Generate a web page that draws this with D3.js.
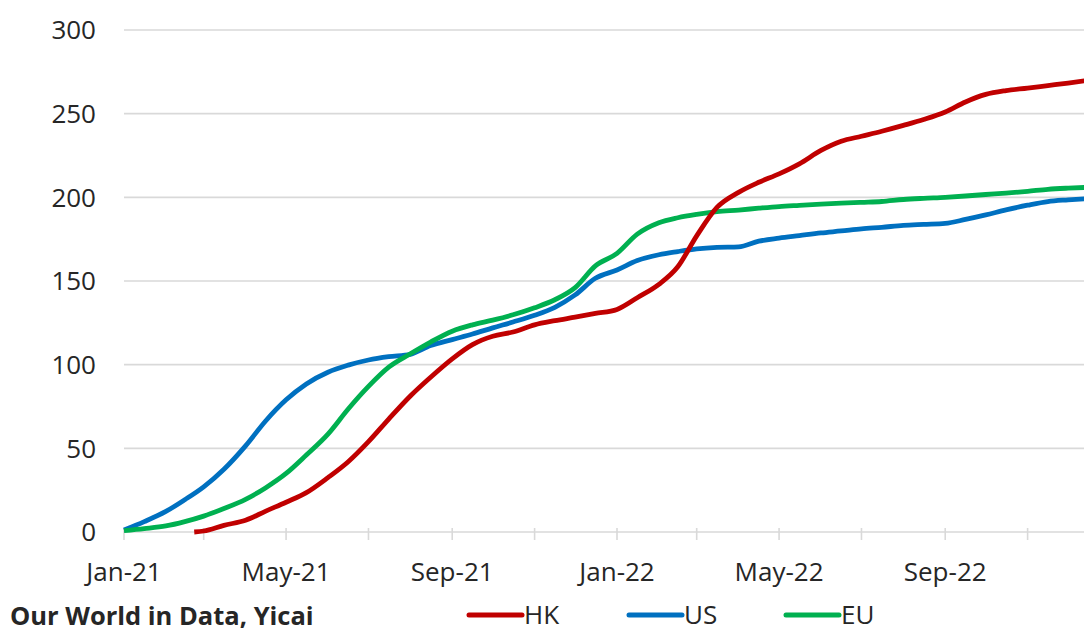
<!DOCTYPE html>
<html lang="en">
<head>
    <meta charset="UTF-8">
    <title>HK / US / EU</title>
    <style>
        body {
            margin: 0;
            background: #fff;
        }
        svg {
            display: block;
            font-family: "Open Sans", sans-serif;
        }
        .grid line {
            stroke: #d9d9d9;
            stroke-width: 1.6;
        }
        .label {
            fill: #262626;
            font-size: 26px;
        }
    </style>
</head>
<body>
    <div id="chart"></div>
    <script src="https://cdn.jsdelivr.net/npm/d3@7"></script>
    <script>
        // half-monthly readings, 2021-01-01 .. 2022-12-16
        const dates = [
            "2021-01-01","2021-01-16","2021-02-01","2021-02-15","2021-03-01","2021-03-16",
            "2021-04-01","2021-04-16","2021-05-01","2021-05-16","2021-06-01","2021-06-16",
            "2021-07-01","2021-07-16","2021-08-01","2021-08-16","2021-09-01","2021-09-16",
            "2021-10-01","2021-10-16","2021-11-01","2021-11-16","2021-12-01","2021-12-16",
            "2022-01-01","2022-01-16","2022-02-01","2022-02-15","2022-03-01","2022-03-16",
            "2022-04-01","2022-04-16","2022-05-01","2022-05-16","2022-06-01","2022-06-16",
            "2022-07-01","2022-07-16","2022-08-01","2022-08-16","2022-09-01","2022-09-16",
            "2022-10-01","2022-10-16","2022-11-01","2022-11-16","2022-12-01","2022-12-16"
        ];
        const usValues = [
            1.2, 6.2, 12.3, 19.3, 27, 37.5, 51.5, 66.5, 79, 88.5, 95.5, 99.7,
            102.8, 104.8, 106.2, 111.4, 115, 118.3, 122, 125.5, 129.5, 134.3, 141.7, 151.6,
            156.6, 162.2, 165.7, 167.6, 169.2, 170.1, 170.4, 173.8, 175.6, 177.1, 178.7, 179.9,
            181.2, 182.1, 183.2, 183.8, 184.4, 186.8, 189.5, 192.5, 195.3, 197.5, 198.5, 199.3
        ];
        const euValues = [
            0.8, 2, 3.6, 6.2, 9.5, 14, 19.5, 26.5, 35, 46, 58.5, 73.5,
            87, 98.5, 106.5, 113.5, 120, 123.8, 126.6, 129.8, 134, 138.8, 146, 159,
            166.5, 178, 184.8, 187.8, 189.8, 191.4, 192.4, 193.5, 194.5, 195.2, 195.9, 196.5,
            197, 197.5, 198.7, 199.4, 200, 200.8, 201.7, 202.5, 203.6, 204.8, 205.5, 206
        ];
        // HK starts later
        const hkDates = ["2021-02-22"].concat(dates.slice(4));
        const hkValues = [
            0, 0.6, 4, 7, 12.5, 17.8, 23.5, 32.5, 42,
            54, 67.5, 81.3, 92.5, 103.5, 112, 117, 119.5, 123.8, 126.3, 128.4, 130.6,
            133, 140, 148, 158.5, 177, 194, 203, 209, 214, 220, 228, 233.5,
            236.5, 239.5, 243, 246.5, 251, 257, 261.5, 263.8, 265.3, 266.8, 268.3, 270
        ];

        const yTicks   = [0, 50, 100, 150, 200, 250, 300];
        const xLabels  = ["2021-01-01", "2021-05-01", "2021-09-01", "2022-01-01", "2022-05-01", "2022-09-01"];
        const series = [
            {name: "US", color: "#0070c0", dates: dates,   values: usValues},
            {name: "EU", color: "#00b050", dates: dates,   values: euValues},
            {name: "HK", color: "#c00000", dates: hkDates, values: hkValues}
        ];
        const legendOrder = ["HK", "US", "EU"];

        const width  = 1084;
        const height = 633;
        const parse  = d3.timeParse("%Y-%m-%d");
        const fmt    = d3.timeFormat("%b-%y");

        const x = d3.scaleTime()
            .domain([parse("2021-01-01"), parse("2023-01-01")])
            .range([124, 1110]);
        const y = d3.scaleLinear().domain([0, 300]).range([532, 30]);

        const svg = d3.select("#chart").append("svg")
            .attr("width", width).attr("height", height);

        // gridlines
        svg.append("g").attr("class", "grid")
            .selectAll("line").data(yTicks.filter(d => d > 0)).enter().append("line")
            .attr("x1", 124).attr("x2", width)
            .attr("y1", d => y(d)).attr("y2", d => y(d));

        svg.append("g").selectAll("text").data(yTicks).enter().append("text")
            .attr("class", "label")
            .attr("x", 96).attr("y", d => y(d))
            .attr("dy", "0.36em")
            .attr("text-anchor", "end")
            .text(d => d);

        // x axis
        const xAxis = svg.append("g").attr("class", "grid");
        xAxis.append("line")
            .attr("x1", 124).attr("x2", width)
            .attr("y1", y(0)).attr("y2", y(0));
        const tickDates = d3.timeMonth.every(2).range(parse("2021-01-01"), parse("2023-01-02"));
        xAxis.selectAll(".tick").data(tickDates).enter().append("line")
            .attr("x1", d => x(d)).attr("x2", d => x(d))
            .attr("y1", y(0) - 4).attr("y2", y(0) + 8);
        svg.append("g").selectAll("text")
            .data(xLabels.map(parse)).enter().append("text")
            .attr("class", "label")
            .attr("x", d => x(d)).attr("y", 581)
            .attr("text-anchor", "middle")
            .text(d => fmt(d));

        // lines
        const line = d3.line()
            .x(d => x(d[0])).y(d => y(d[1]))
            .curve(d3.curveMonotoneX);

        svg.append("g").selectAll("path").data(series).enter().append("path")
            .attr("d", s => line(s.dates.map((dt, i) => [parse(dt), s.values[i]])))
            .attr("fill", "none")
            .attr("stroke", s => s.color)
            .attr("stroke-width", 4.8)
            .attr("stroke-linejoin", "round");

        // legend
        const legendX = [467, 627, 784];
        const legend = svg.append("g").selectAll("g")
            .data(legendOrder.map(n => series.find(s => s.name === n))).enter().append("g")
            .attr("transform", (d, i) => `translate(${legendX[i]},615)`);
        legend.append("line")
            .attr("x1", 2).attr("x2", 55)
            .attr("stroke", d => d.color).attr("stroke-width", 5)
            .attr("stroke-linecap", "round");
        legend.append("text")
            .attr("class", "label")
            .attr("x", 57).attr("dy", "0.36em")
            .text(d => d.name);

        // source
        svg.append("text")
            .attr("x", 10).attr("y", 625)
            .attr("font-size", 25.5).attr("font-weight", "bold")
            .attr("fill", "#262626")
            .text("Our World in Data, Yicai");
    </script>
</body>
</html>
